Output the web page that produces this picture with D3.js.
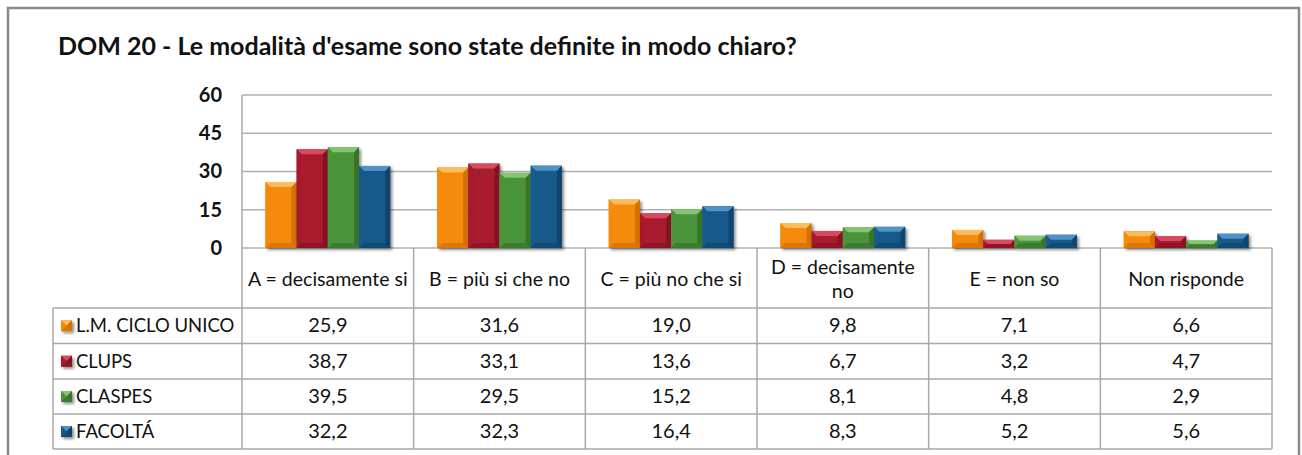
<!DOCTYPE html>
<html>
<head>
<meta charset="utf-8">
<script src="https://cdn.jsdelivr.net/npm/d3@7"></script>
<style>
  body { margin: 0; background: #fff; }
  text { font-family: Lato, "Open Sans", sans-serif; fill: #111; }
</style>
</head>
<body>
<div id="chart"></div>
<script>
var titleText = "DOM 20 - Le modalità d'esame sono state definite in modo chiaro?";
var categories = ["A = decisamente si", "B = più si che no", "C = più no che si", "D = decisamente no", "E = non so", "Non risponde"];
var headerLines = [["A = decisamente si"], ["B = più si che no"], ["C = più no che si"], ["D = decisamente", "no"], ["E = non so"], ["Non risponde"]];
var seriesNames = ["L.M. CICLO UNICO", "CLUPS", "CLASPES", "FACOLTÁ"];
var lmCicloUnico = [25.9, 31.6, 19.0, 9.8, 7.1, 6.6];
var clups = [38.7, 33.1, 13.6, 6.7, 3.2, 4.7];
var claspes = [39.5, 29.5, 15.2, 8.1, 4.8, 2.9];
var facolta = [32.2, 32.3, 16.4, 8.3, 5.2, 5.6];
var yTicks = [0, 15, 30, 45, 60];

var allValues = [lmCicloUnico, clups, claspes, facolta];
var colors = [
  {base: "#f58a0c", light: "#fdbd5c", dark: "#c86a05"},
  {base: "#a81a2e", light: "#d94a60", dark: "#7c1020"},
  {base: "#4a943a", light: "#85c472", dark: "#336c27"},
  {base: "#175a8c", light: "#4f93c6", dark: "#0f3f66"}
];

const width = 1302, height = 455;
const plotLeft = 242, plotRight = 1272, plotTop = 95, plotBottom = 248;
const rowTops = [248, 308, 343.5, 379, 414, 449];
const tableLeft = 53;

var svg = d3.select("#chart").append("svg")
    .attr("width", width)
    .attr("height", height);

var defs = svg.append("defs");
var f = defs.append("filter").attr("id", "shadow")
    .attr("x", "-20%").attr("y", "-20%").attr("width", "150%").attr("height", "150%");
f.append("feDropShadow").attr("dx", 2).attr("dy", 2).attr("stdDeviation", 1.6)
    .attr("flood-color", "#000").attr("flood-opacity", 0.45);

// outer frame
svg.append("rect")
    .attr("x", 8).attr("y", 8).attr("width", 1291).attr("height", 470)
    .attr("fill", "#fff").attr("stroke", "#8a8a8a").attr("stroke-width", 2.5);

svg.append("text")
    .attr("x", 58).attr("y", 55)
    .attr("font-size", "25px").attr("font-weight", "bold")
    .attr("fill", "#000")
    .text(titleText);

var xScale = d3.scaleBand().domain(categories).range([plotLeft, plotRight]).padding(0);
var x1 = d3.scaleBand().domain(seriesNames).range([0, xScale.bandwidth()])
    .paddingInner(0).paddingOuter(0.75);
var yScale = d3.scaleLinear().domain([0, 60]).range([plotBottom, plotTop]);

// gridlines
svg.append("g").selectAll("line")
    .data(yTicks)
    .enter().append("line")
    .attr("x1", plotLeft).attr("x2", plotRight)
    .attr("y1", d => yScale(d)).attr("y2", d => yScale(d))
    .attr("stroke", "#b0b0b0").attr("stroke-width", 1.5);

// y axis labels
var yAxis = d3.axisLeft(yScale).tickValues(yTicks).tickSize(0).tickPadding(20);
var ag = svg.append("g")
    .attr("transform", "translate(" + plotLeft + ",0)")
    .call(yAxis);
ag.select(".domain").remove();
ag.selectAll("text")
    .attr("font-size", "20px").attr("font-weight", "bold")
    .attr("font-family", "Lato, sans-serif").attr("fill", "#111");

// bevelled bar
function bevelBar(g, x, y, w, h, c) {
    var b = Math.min(5, h / 2);
    var bar = g.append("g").attr("filter", "url(#shadow)");
    bar.append("rect").attr("x", x).attr("y", y).attr("width", w).attr("height", h).attr("fill", c.base);
    var inner = g.append("g");
    inner.append("polygon")
        .attr("points", [[x, y], [x + w, y], [x + w - b, y + b], [x + b, y + b]].join(" "))
        .attr("fill", c.light);
    inner.append("polygon")
        .attr("points", [[x, y], [x + b, y + b], [x + b, y + h - b], [x, y + h]].join(" "))
        .attr("fill", c.base).attr("opacity", 0.9);
    inner.append("polygon")
        .attr("points", [[x + w, y], [x + w - b, y + b], [x + w - b, y + h - b], [x + w, y + h]].join(" "))
        .attr("fill", c.dark).attr("opacity", 0.8);
    inner.append("polygon")
        .attr("points", [[x, y + h], [x + b, y + h - b], [x + w - b, y + h - b], [x + w, y + h]].join(" "))
        .attr("fill", c.dark).attr("opacity", 0.6);
}

var bars = svg.append("g").attr("class", "bars");
categories.forEach(function(cat, ci) {
    seriesNames.forEach(function(s, si) {
        var v = allValues[si][ci];
        var x = xScale(cat) + x1(s);
        bevelBar(bars, x, yScale(v), x1.bandwidth(), yScale(0) - yScale(v), colors[si]);
    });
});

// data table
var tg = svg.append("g").attr("class", "table");
var gridColor = "#a8a8a8";
tg.selectAll("line.h")
    .data(rowTops.slice(1))
    .enter().append("line")
    .attr("x1", tableLeft).attr("x2", plotRight)
    .attr("y1", d => d).attr("y2", d => d)
    .attr("stroke", gridColor).attr("stroke-width", 1.5);
var vx = categories.map(c => xScale(c)).concat([plotRight]);
tg.selectAll("line.v")
    .data(vx)
    .enter().append("line")
    .attr("x1", d => d).attr("x2", d => d)
    .attr("y1", (d, i) => i == 0 ? plotTop : plotBottom).attr("y2", rowTops[5])
    .attr("stroke", gridColor).attr("stroke-width", 1.5);
tg.append("line")
    .attr("x1", tableLeft).attr("x2", tableLeft)
    .attr("y1", rowTops[1]).attr("y2", rowTops[5])
    .attr("stroke", gridColor).attr("stroke-width", 1.5);

// headers
headerLines.forEach(function(lines, ci) {
    var cx = xScale(categories[ci]) + xScale.bandwidth() / 2;
    var cy = lines.length == 1 ? 286 : 274;
    var t = tg.append("text")
        .attr("x", cx).attr("y", cy)
        .attr("text-anchor", "middle").attr("font-size", "19.5px");
    lines.forEach(function(l, li) {
        t.append("tspan").attr("x", cx).attr("dy", li == 0 ? 0 : 24).text(l);
    });
});

// rows
seriesNames.forEach(function(s, si) {
    var y0 = rowTops[si + 1], y1 = rowTops[si + 2];
    var cy = (y0 + y1) / 2;
    bevelBar(tg, 61, cy - 5.5, 11, 11, colors[si]);
    tg.append("text")
        .attr("x", 76).attr("y", cy + 6.5)
        .attr("font-size", "18.5px")
        .text(s);
    categories.forEach(function(cat, ci) {
        tg.append("text")
            .attr("x", xScale(cat) + xScale.bandwidth() / 2).attr("y", cy + 6.5)
            .attr("text-anchor", "middle").attr("font-size", "20px")
            .text(d3.format(".1f")(allValues[si][ci]).replace(".", ","));
    });
});
</script>
</body>
</html>
